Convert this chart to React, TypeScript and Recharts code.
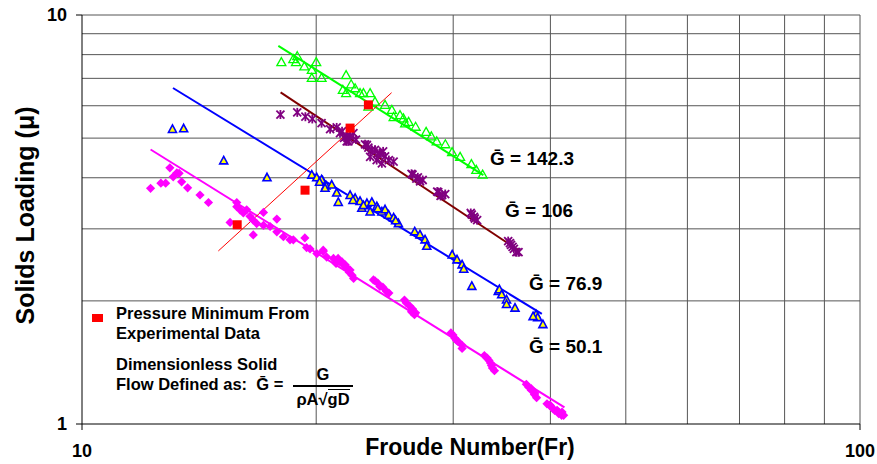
import React from "react";
import {
  ScatterChart,
  Scatter,
  XAxis,
  YAxis,
  ReferenceLine,
} from "recharts";

// Froude number vs solids loading, four dimensionless solid flows
const g50 = [
  { x: 12.25, y: 3.77 }, { x: 12.63, y: 3.88 }, { x: 12.81, y: 3.88 }, { x: 12.97, y: 4.23 },
  { x: 13.1, y: 4.02 }, { x: 13.24, y: 4.11 }, { x: 13.33, y: 4.1 }, { x: 13.43, y: 3.91 },
  { x: 13.67, y: 3.78 }, { x: 14.18, y: 3.63 }, { x: 14.54, y: 3.48 }, { x: 15.5, y: 3.11 },
  { x: 15.81, y: 3.48 }, { x: 15.81, y: 3.4 }, { x: 15.96, y: 3.34 }, { x: 16.12, y: 3.28 },
  { x: 16.28, y: 3.34 }, { x: 16.44, y: 3.22 }, { x: 16.6, y: 3.15 }, { x: 16.77, y: 3.09 },
  { x: 17.11, y: 3.29 }, { x: 17.11, y: 3.06 }, { x: 17.45, y: 3.04 }, { x: 16.6, y: 2.9 },
  { x: 17.8, y: 3.17 }, { x: 17.8, y: 2.95 }, { x: 18.15, y: 2.87 }, { x: 18.69, y: 2.82 },
  { x: 18.51, y: 2.82 }, { x: 19.34, y: 2.85 }, { x: 19.44, y: 2.7 }, { x: 19.64, y: 2.68 },
  { x: 20.04, y: 2.61 }, { x: 20.42, y: 2.64 }, { x: 20.42, y: 2.66 }, { x: 20.63, y: 2.56 },
  { x: 21.05, y: 2.54 }, { x: 21.46, y: 2.49 }, { x: 21.79, y: 2.45 }, { x: 22.11, y: 2.38 },
  { x: 22.34, y: 2.27 }, { x: 21.34, y: 2.54 }, { x: 21.59, y: 2.49 }, { x: 21.92, y: 2.41 },
  { x: 21.21, y: 2.47 }, { x: 21.72, y: 2.44 }, { x: 22.05, y: 2.35 }, { x: 22.24, y: 2.31 },
  { x: 23.69, y: 2.25 }, { x: 23.8, y: 2.24 }, { x: 24.0, y: 2.21 }, { x: 24.15, y: 2.17 },
  { x: 24.36, y: 2.16 }, { x: 24.62, y: 2.11 }, { x: 24.8, y: 2.09 },
  { x: 25.97, y: 2.01 }, { x: 26.1, y: 1.98 }, { x: 26.4, y: 1.94 }, { x: 26.6, y: 1.91 },
  { x: 26.52, y: 1.88 }, { x: 26.75, y: 1.85 }, { x: 26.84, y: 1.87 },
  { x: 29.8, y: 1.67 }, { x: 29.98, y: 1.65 }, { x: 30.15, y: 1.62 }, { x: 30.3, y: 1.6 },
  { x: 30.45, y: 1.59 }, { x: 30.78, y: 1.56 }, { x: 30.8, y: 1.53 },
  { x: 32.9, y: 1.47 }, { x: 33.17, y: 1.45 }, { x: 33.35, y: 1.43 }, { x: 33.5, y: 1.41 },
  { x: 33.6, y: 1.39 }, { x: 33.69, y: 1.37 }, { x: 33.9, y: 1.35 },
  { x: 37.25, y: 1.25 }, { x: 37.52, y: 1.23 }, { x: 37.8, y: 1.22 }, { x: 37.8, y: 1.21 },
  { x: 38.15, y: 1.18 }, { x: 38.2, y: 1.19 }, { x: 38.4, y: 1.16 },
  { x: 39.6, y: 1.12 }, { x: 39.91, y: 1.11 }, { x: 40.0, y: 1.11 }, { x: 40.3, y: 1.09 },
  { x: 40.5, y: 1.08 }, { x: 40.8, y: 1.08 }, { x: 41.0, y: 1.07 }, { x: 41.0, y: 1.06 },
  { x: 41.35, y: 1.05 }, { x: 41.4, y: 1.07 }, { x: 41.6, y: 1.05 },
];

const g769 = [
  { x: 13.07, y: 5.25 }, { x: 13.51, y: 5.27 }, { x: 15.21, y: 4.4 }, { x: 17.29, y: 4.0 },
  { x: 19.74, y: 4.06 }, { x: 20.03, y: 4.0 }, { x: 20.38, y: 3.93 }, { x: 20.59, y: 3.82 },
  { x: 20.32, y: 3.95 }, { x: 20.53, y: 3.77 }, { x: 20.94, y: 3.84 }, { x: 21.25, y: 3.67 },
  { x: 21.35, y: 3.48 }, { x: 22.11, y: 3.62 }, { x: 22.44, y: 3.56 }, { x: 22.77, y: 3.5 },
  { x: 22.89, y: 3.37 }, { x: 23.24, y: 3.46 }, { x: 23.46, y: 3.3 }, { x: 23.58, y: 3.48 },
  { x: 23.93, y: 3.4 }, { x: 24.29, y: 3.3 }, { x: 24.52, y: 3.34 }, { x: 24.78, y: 3.24 },
  { x: 25.15, y: 3.19 }, { x: 25.51, y: 3.09 }, { x: 26.77, y: 2.95 }, { x: 27.19, y: 2.9 },
  { x: 27.6, y: 2.82 }, { x: 27.74, y: 2.72 }, { x: 29.91, y: 2.59 }, { x: 30.34, y: 2.52 },
  { x: 30.8, y: 2.45 }, { x: 30.95, y: 2.39 }, { x: 31.7, y: 2.17 }, { x: 34.28, y: 2.11 },
  { x: 34.39, y: 2.13 }, { x: 34.63, y: 2.07 }, { x: 35.13, y: 2.01 }, { x: 35.13, y: 1.96 },
  { x: 36.02, y: 1.92 }, { x: 38.33, y: 1.85 }, { x: 38.52, y: 1.82 }, { x: 39.12, y: 1.75 },
  { x: 20.2, y: 3.9 }, { x: 22.3, y: 3.52 }, { x: 23.0, y: 3.42 }, { x: 24.0, y: 3.36 },
  { x: 25.3, y: 3.14 }, { x: 38.0, y: 1.83 },
];

const g106 = [
  { x: 17.99, y: 5.71 }, { x: 18.91, y: 5.78 }, { x: 19.37, y: 5.64 }, { x: 19.77, y: 5.57 },
  { x: 20.32, y: 5.44 }, { x: 20.84, y: 5.26 }, { x: 21.25, y: 5.31 }, { x: 21.46, y: 5.14 },
  { x: 21.85, y: 5.04 }, { x: 22.0, y: 4.91 }, { x: 22.33, y: 5.14 }, { x: 21.89, y: 4.91 },
  { x: 22.0, y: 4.99 }, { x: 21.59, y: 5.2 }, { x: 22.11, y: 5.06 }, { x: 22.5, y: 4.96 },
  { x: 21.72, y: 5.01 }, { x: 23.11, y: 4.83 }, { x: 23.24, y: 4.81 }, { x: 23.34, y: 4.74 },
  { x: 23.58, y: 4.68 }, { x: 23.8, y: 4.68 }, { x: 24.0, y: 4.58 }, { x: 24.15, y: 4.59 },
  { x: 24.38, y: 4.64 }, { x: 24.52, y: 4.51 }, { x: 24.8, y: 4.42 }, { x: 23.46, y: 4.5 },
  { x: 23.92, y: 4.42 }, { x: 24.29, y: 4.34 }, { x: 25.15, y: 4.38 },
  { x: 26.52, y: 4.09 }, { x: 26.6, y: 4.07 }, { x: 26.9, y: 3.98 }, { x: 27.02, y: 4.01 },
  { x: 27.2, y: 3.92 }, { x: 27.41, y: 3.95 },
  { x: 28.61, y: 3.7 }, { x: 28.7, y: 3.69 }, { x: 28.9, y: 3.61 }, { x: 29.03, y: 3.63 },
  { x: 29.3, y: 3.65 },
  { x: 31.6, y: 3.28 }, { x: 31.7, y: 3.25 }, { x: 31.9, y: 3.21 }, { x: 31.98, y: 3.18 },
  { x: 32.2, y: 3.15 },
  { x: 35.3, y: 2.8 }, { x: 35.49, y: 2.77 }, { x: 35.6, y: 2.74 }, { x: 35.76, y: 2.71 },
  { x: 35.9, y: 2.68 }, { x: 36.17, y: 2.63 }, { x: 36.4, y: 2.63 },
];

const g142 = [
  { x: 18.04, y: 7.67 }, { x: 18.69, y: 7.8 }, { x: 18.84, y: 7.67 }, { x: 18.91, y: 7.93 },
  { x: 19.31, y: 7.49 }, { x: 19.74, y: 7.34 }, { x: 20.0, y: 7.67 }, { x: 19.74, y: 7.02 },
  { x: 20.32, y: 7.02 }, { x: 21.85, y: 7.13 }, { x: 21.64, y: 6.56 }, { x: 21.85, y: 6.44 },
  { x: 22.18, y: 6.77 }, { x: 22.44, y: 6.62 }, { x: 22.77, y: 6.44 }, { x: 23.0, y: 6.44 },
  { x: 23.46, y: 6.44 }, { x: 23.34, y: 5.97 }, { x: 23.8, y: 6.14 }, { x: 24.52, y: 6.03 },
  { x: 25.02, y: 5.86 }, { x: 25.15, y: 5.63 }, { x: 25.63, y: 5.69 }, { x: 25.89, y: 5.59 },
  { x: 26.29, y: 5.48 }, { x: 26.02, y: 5.43 }, { x: 26.84, y: 5.33 }, { x: 27.69, y: 5.18 },
  { x: 28.12, y: 5.05 }, { x: 28.57, y: 4.91 }, { x: 29.31, y: 4.83 }, { x: 29.9, y: 4.62 },
  { x: 30.62, y: 4.5 }, { x: 31.66, y: 4.32 }, { x: 32.12, y: 4.18 }, { x: 32.73, y: 4.07 },
];

const pressureMin = [
  { x: 15.83, y: 3.07 }, { x: 19.35, y: 3.73 }, { x: 22.11, y: 5.29 }, { x: 23.34, y: 6.03 },
];

// fitted trend lines (end points)
const fit50 = [{ x: 12.25, y: 4.69 }, { x: 41.7, y: 1.098 }];
const fit769 = [{ x: 13.09, y: 6.63 }, { x: 39.0, y: 1.858 }];
const fit106 = [{ x: 18.0, y: 6.47 }, { x: 36.35, y: 2.664 }];
const fit142 = [{ x: 17.88, y: 8.4 }, { x: 32.8, y: 4.06 }];
const fitMin = [{ x: 14.97, y: 2.649 }, { x: 25.0, y: 6.457 }];

const gridX = [20, 30, 40, 50, 60, 70, 80, 90, 100];
const gridY = [2, 3, 4, 5, 6, 7, 8, 9, 10];
const xTicks = [10, 100];
const yTicks = [1, 10];

const FONT = "'Liberation Sans', Arial, sans-serif";

const Diamond = (p: any) => {
  const { cx, cy } = p;
  const r = 4.6;
  return (
    <polygon
      points={`${cx},${cy - r} ${cx + r},${cy} ${cx},${cy + r} ${cx - r},${cy}`}
      fill="#ff00ff"
    />
  );
};

const TriFilled = (p: any) => {
  const { cx, cy } = p;
  return (
    <polygon
      points={`${cx},${cy - 4.5} ${cx + 4},${cy + 3} ${cx - 4},${cy + 3}`}
      fill="#ffff00"
      stroke="#0000ff"
      strokeWidth={1.6}
    />
  );
};

const TriOpen = (p: any) => {
  const { cx, cy } = p;
  return (
    <polygon
      points={`${cx},${cy - 4.5} ${cx + 4.5},${cy + 3.5} ${cx - 4.5},${cy + 3.5}`}
      fill="none"
      stroke="#00ff00"
      strokeWidth={1.3}
    />
  );
};

const Star = (p: any) => {
  const { cx, cy } = p;
  const r = 4;
  return (
    <g stroke="#800080" strokeWidth={1.8}>
      <line x1={cx - r} y1={cy - r} x2={cx + r} y2={cy + r} />
      <line x1={cx - r} y1={cy + r} x2={cx + r} y2={cy - r} />
      <line x1={cx} y1={cy - r - 0.5} x2={cx} y2={cy + r + 0.5} />
    </g>
  );
};

const Square = (p: any) => {
  const { cx, cy } = p;
  return <rect x={cx - 4.5} y={cy - 4.5} width={9} height={9} fill="#ff0000" />;
};

const label: React.CSSProperties = {
  position: "absolute",
  fontFamily: FONT,
  fontWeight: "bold",
  color: "#000",
  whiteSpace: "nowrap",
};

export default function App() {
  // pinned to the page corner so the whole 877x464 window is the chart
  return (
    <div style={{ position: "absolute", left: 0, top: 0, width: 877, height: 464, overflow: "hidden" }}>
      <ScatterChart
        width={877}
        height={464}
        margin={{ top: 15, right: 17, bottom: 0, left: 8 }}
      >
        <XAxis
          dataKey="x"
          type="number"
          scale="log"
          domain={[10, 100]}
          ticks={xTicks}
          allowDataOverflow
          height={40}
          stroke="#000"
          tickSize={6}
          tickMargin={14}
          tick={{ fill: "#000", fontSize: 18, fontWeight: "bold", fontFamily: FONT }}
        />
        <YAxis
          dataKey="y"
          type="number"
          scale="log"
          domain={[1, 10]}
          ticks={yTicks}
          allowDataOverflow
          width={74}
          stroke="#000"
          tickSize={6}
          tickMargin={9}
          tick={{ fill: "#000", fontSize: 18, fontWeight: "bold", fontFamily: FONT }}
        />
        {gridX.map((v) => (
          <ReferenceLine key={"gx" + v} x={v} stroke="#555" strokeWidth={1} />
        ))}
        {gridY.map((v) => (
          <ReferenceLine key={"gy" + v} y={v} stroke="#555" strokeWidth={1} />
        ))}
        <ReferenceLine segment={fit50} stroke="#ff00ff" strokeWidth={2} />
        <ReferenceLine segment={fit769} stroke="#0000ff" strokeWidth={2} />
        <ReferenceLine segment={fit106} stroke="#800000" strokeWidth={2} />
        <ReferenceLine segment={fit142} stroke="#00ff00" strokeWidth={2} />
        <ReferenceLine segment={fitMin} stroke="#ff0000" strokeWidth={1} />
        <Scatter data={g50} shape={Diamond} isAnimationActive={false} />
        <Scatter data={g769} shape={TriFilled} isAnimationActive={false} />
        <Scatter data={g106} shape={Star} isAnimationActive={false} />
        <Scatter data={g142} shape={TriOpen} isAnimationActive={false} />
        <Scatter data={pressureMin} shape={Square} isAnimationActive={false} />
      </ScatterChart>

      <div style={{ ...label, fontSize: 19, lineHeight: "19px", left: 490, top: 149 }}>Ḡ = 142.3</div>
      <div style={{ ...label, fontSize: 19, lineHeight: "19px", left: 505, top: 201 }}>Ḡ = 106</div>
      <div style={{ ...label, fontSize: 19, lineHeight: "19px", left: 529, top: 274 }}>Ḡ = 76.9</div>
      <div style={{ ...label, fontSize: 19, lineHeight: "19px", left: 529, top: 337 }}>Ḡ = 50.1</div>

      <div style={{ position: "absolute", left: 92, top: 314, width: 11, height: 8, background: "#ff0000" }} />
      <div style={{ ...label, fontSize: 16.5, lineHeight: "20px", left: 116, top: 303 }}>
        Pressure Minimum From
        <br />
        Experimental Data
      </div>
      <div style={{ ...label, fontSize: 16.5, lineHeight: "20px", left: 116, top: 354 }}>
        Dimensionless Solid
        <br />
        Flow Defined as:&nbsp; Ḡ =
      </div>
      <div style={{ ...label, fontSize: 16.5, lineHeight: "16px", left: 293, top: 366, width: 60, textAlign: "center" }}>
        G
      </div>
      <div style={{ position: "absolute", left: 293, top: 385, width: 60, height: 1.5, background: "#000" }} />
      <div style={{ ...label, fontSize: 16.5, lineHeight: "18px", left: 293, top: 390, width: 60, textAlign: "center" }}>
        ρA√<span style={{ borderTop: "1.5px solid #000" }}>gD</span>
      </div>

      <div style={{ ...label, fontSize: 23, lineHeight: "23px", left: 270, top: 436, width: 400, textAlign: "center" }}>
        Froude Number(Fr)
      </div>
      <div
        style={{
          ...label,
          fontSize: 25,
          lineHeight: "25px",
          left: 25 - 150,
          top: 215 - 12,
          width: 300,
          textAlign: "center",
          transform: "rotate(-90deg)",
        }}
      >
        Solids Loading (μ)
      </div>
    </div>
  );
}
